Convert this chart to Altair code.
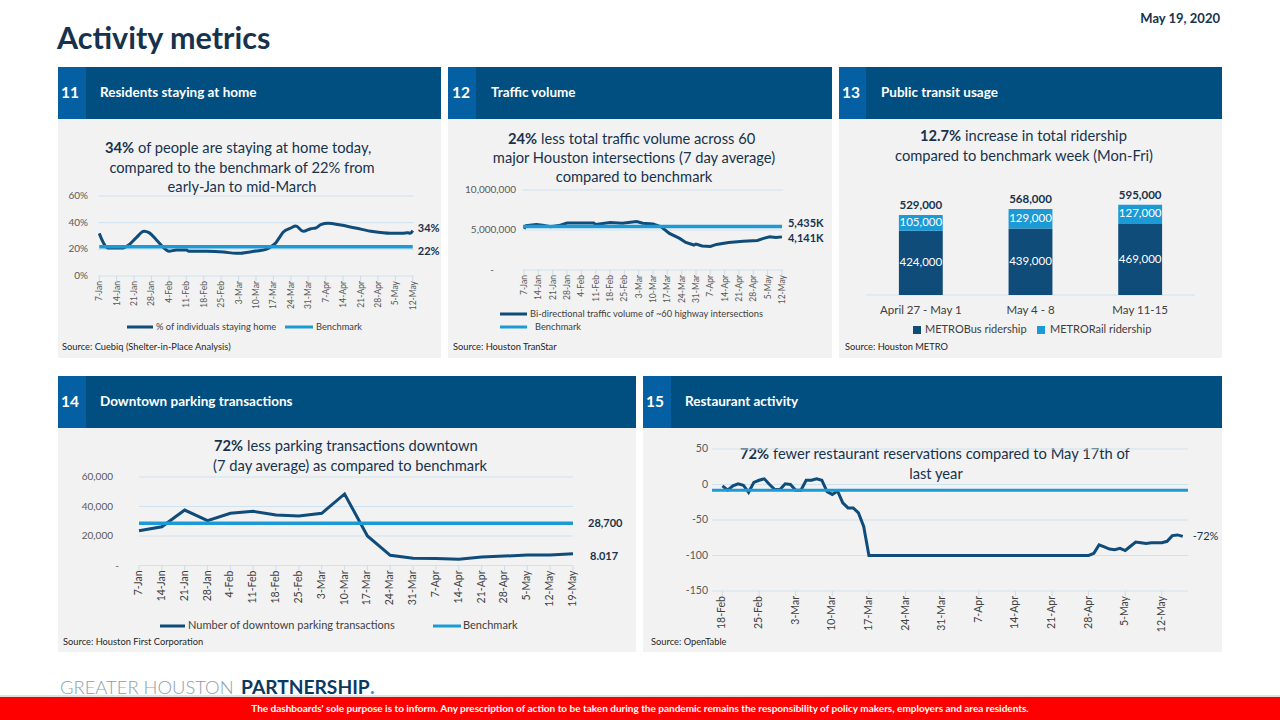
import altair as alt
import pandas as pd

W, H = 1280, 720
FONT = "Lato"
NAVY = "#004f80"
ACCENT = "#0560a3"
PANEL = "#f2f2f2"
DARK = "#0f4c7a"
LIGHT = "#1c9ad6"
GRID = "#cfe2f0"
INK = "#17324d"
AXT = "#595959"
LEG = "#404040"
SRC = "#262626"

# ---------------- data ----------------
# 11 Residents staying at home (% of individuals)
home_dates = ["2020-01-07", "2020-01-10", "2020-01-11", "2020-01-16", "2020-01-19", "2020-01-22",
              "2020-01-25", "2020-01-27", "2020-01-30", "2020-02-03", "2020-02-04", "2020-02-07",
              "2020-02-11", "2020-02-12", "2020-02-19", "2020-02-26", "2020-03-02", "2020-03-04",
              "2020-03-06", "2020-03-10", "2020-03-14", "2020-03-16", "2020-03-18", "2020-03-20",
              "2020-03-21", "2020-03-24", "2020-03-26", "2020-03-29", "2020-04-01", "2020-04-03",
              "2020-04-05", "2020-04-08", "2020-04-13", "2020-04-19", "2020-04-26", "2020-05-03",
              "2020-05-08", "2020-05-10", "2020-05-11", "2020-05-12"]
home_pct = [32, 21.5, 21, 21, 23.5, 29, 33.5, 32.5, 27, 19.5, 18.5, 19.5,
            19.5, 18.5, 18.5, 18, 17, 17, 17.7, 18.7, 20, 22, 25, 30.5,
            33, 36, 37.5, 33.5, 35.5, 36, 38.5, 39.5, 38.2, 36, 33.3, 32,
            32, 32.5, 32, 34]
home_bench = 22
home_ticks = ["7-Jan", "14-Jan", "21-Jan", "28-Jan", "4-Feb", "11-Feb", "18-Feb", "25-Feb", "3-Mar",
              "10-Mar", "17-Mar", "24-Mar", "31-Mar", "7-Apr", "14-Apr", "21-Apr", "28-Apr", "5-May", "12-May"]
home_yv = [0, 20, 40, 60]
home_yl = ["0%", "20%", "40%", "60%"]

# 12 Traffic volume
traffic_dates = ["2020-01-07", "2020-01-08", "2020-01-13", "2020-01-16", "2020-01-20", "2020-01-24",
                 "2020-01-28", "2020-02-10", "2020-02-11", "2020-02-18", "2020-02-24", "2020-03-02",
                 "2020-03-05", "2020-03-10", "2020-03-14", "2020-03-18", "2020-03-23", "2020-03-26",
                 "2020-03-30", "2020-03-31", "2020-04-03", "2020-04-07", "2020-04-10", "2020-04-16",
                 "2020-04-23", "2020-04-30", "2020-05-03", "2020-05-06", "2020-05-09", "2020-05-12"]
traffic_volume = [5150000, 5550000, 5700000, 5600000, 5400000, 5550000,
                  5870000, 5870000, 5700000, 5950000, 5850000, 6050000,
                  5850000, 5750000, 5400000, 4580000, 3950000, 3450000,
                  3120000, 3250000, 3000000, 2950000, 3200000, 3450000,
                  3600000, 3700000, 3950000, 4150000, 4050000, 4141000]
traffic_bench = 5435000
traffic_yv = [0, 5000000, 10000000]
traffic_yl = ["-", "5,000,000", "10,000,000"]

# 13 Public transit usage
transit_weeks = ["April 27 - May 1", "May 4 - 8", "May 11-15"]
bus_riders = [424000, 439000, 469000]
rail_riders = [105000, 129000, 127000]
transit_totals = ["529,000", "568,000", "595,000"]

# 14 Downtown parking transactions (7 day average)
parking_dates = ["2020-01-07", "2020-01-14", "2020-01-21", "2020-01-28", "2020-02-04", "2020-02-11",
                 "2020-02-18", "2020-02-25", "2020-03-03", "2020-03-10", "2020-03-17", "2020-03-24",
                 "2020-03-31", "2020-04-07", "2020-04-14", "2020-04-21", "2020-04-28", "2020-05-05",
                 "2020-05-12", "2020-05-19"]
parking_tx = [23600, 26300, 37600, 30400, 35400, 36700, 34200, 33600, 35400, 48500,
              20000, 6900, 4900, 4700, 4200, 5800, 6400, 7100, 7100, 8017]
parking_bench = 28700
parking_ticks = home_ticks + ["19-May"]
parking_yv = [0, 20000, 40000, 60000]
parking_yl = ["-", "20,000", "40,000", "60,000"]

# 15 Restaurant activity (% change in reservations vs last year)
rest_dates = ["2020-02-18", "2020-02-19", "2020-02-20", "2020-02-21", "2020-02-22", "2020-02-23",
              "2020-02-24", "2020-02-25", "2020-02-26", "2020-02-27", "2020-02-28", "2020-02-29",
              "2020-03-01", "2020-03-02", "2020-03-03", "2020-03-04", "2020-03-05", "2020-03-06",
              "2020-03-07", "2020-03-08", "2020-03-09", "2020-03-10", "2020-03-11", "2020-03-12",
              "2020-03-13", "2020-03-14", "2020-03-15", "2020-03-16", "2020-03-17", "2020-04-28",
              "2020-04-29", "2020-04-30", "2020-05-01", "2020-05-02", "2020-05-03", "2020-05-04",
              "2020-05-05", "2020-05-06", "2020-05-07", "2020-05-08", "2020-05-09", "2020-05-10",
              "2020-05-11", "2020-05-12", "2020-05-13", "2020-05-14", "2020-05-15", "2020-05-16"]
rest_pct = [-2, -8, -2, 1, -1, -11, 3, 6, 8, 0, -7, -7,
            1, 0, -8, -8, 6, 6, 8, 6, -10, -14, -9, -26,
            -33, -33, -40, -59, -100, -100, -97, -85, -88, -91, -92, -90,
            -93, -87, -81, -82, -83, -82, -82, -82, -80, -72, -71, -73]
rest_bench = -8
rest_ticks = ["18-Feb", "25-Feb", "3-Mar", "10-Mar", "17-Mar", "24-Mar", "31-Mar", "7-Apr",
              "14-Apr", "21-Apr", "28-Apr", "5-May", "12-May"]
rest_yv = [-150, -100, -50, 0, 50]
rest_yl = ["-150", "-100", "-50", "0", "50"]


# ---------------- helpers ----------------
def lin(dom, rng):
    return alt.Scale(domain=dom, range=rng, nice=False, zero=False)


XL = lin([0, W], [0, W])
YL = lin([0, H], [0, H])
layers = []


def day_offsets(dates, start):
    s = pd.Timestamp(start)
    return [(pd.Timestamp(d) - s).days for d in dates]


def lay_text(rows, **kw):
    df = pd.DataFrame(rows, columns=["t", "x", "y"])
    base = dict(font=FONT, baseline="middle", align="left")
    base.update(kw)
    return alt.Chart(df).mark_text(**base).encode(
        x=alt.X("x:Q", scale=XL, axis=None), y=alt.Y("y:Q", scale=YL, axis=None), text="t:N")


def lay_rects(rows):
    df = pd.DataFrame(rows, columns=["x", "x2", "y", "y2", "fill"])
    return alt.Chart(df).mark_rect().encode(
        x=alt.X("x:Q", scale=XL, axis=None), x2="x2", y=alt.Y("y:Q", scale=YL, axis=None), y2="y2",
        color=alt.Color("fill:N", scale=None))


def lay_rules(rows, width):
    df = pd.DataFrame(rows, columns=["x", "x2", "y", "stroke"])
    return alt.Chart(df).mark_rule(strokeWidth=width).encode(
        x=alt.X("x:Q", scale=XL, axis=None), x2="x2", y=alt.Y("y:Q", scale=YL, axis=None),
        color=alt.Color("stroke:N", scale=None))


def line_panel(P, d, v, bench, bench_span, ticks, yv, yl, xlab_size, ylab_dx, dash_dx,
               interp, axis_v, ylab_size=10, xlab_color=AXT, bench_w=3.5):
    xs = lin(P["xdom"], P["xr"])
    ys = lin(P["ydom"], P["yr"])

    def X(f):
        return alt.X(f + ":Q", scale=xs, axis=None)

    def Y(f):
        return alt.Y(f + ":Q", scale=ys, axis=None)

    out = []
    g = pd.DataFrame({"v": yv, "a": P["xdom"][0], "b": P["xdom"][1]})
    out.append(alt.Chart(g).mark_rule(color=GRID, strokeWidth=1).encode(x=X("a"), x2="b", y=Y("v")))
    tk = pd.DataFrame({"d": [7 * i for i in range(len(ticks))], "t": ticks, "y": axis_v})
    out.append(alt.Chart(tk).mark_tick(orient="vertical", size=5, thickness=1, color="#bcd3e4",
                                       yOffset=2.5).encode(x=X("d"), y=Y("y")))
    out.append(alt.Chart(tk).mark_text(angle=270, align="right", baseline="middle", dx=-5,
                                       fontSize=xlab_size, color=xlab_color, font=FONT).encode(
        x=X("d"), y=Y("y"), text="t:N"))
    ylab = pd.DataFrame({"v": yv, "t": yl, "a": P["xdom"][0]})
    main = ylab[ylab["t"] != "-"]
    dash = ylab[ylab["t"] == "-"]
    out.append(alt.Chart(main).mark_text(align="right", baseline="middle", dx=ylab_dx, fontSize=ylab_size,
                                         color=AXT, font=FONT).encode(x=X("a"), y=Y("v"), text="t:N"))
    if len(dash):
        out.append(alt.Chart(dash).mark_text(align="center", baseline="middle", dx=dash_dx, fontSize=ylab_size,
                                             color=AXT, font=FONT).encode(x=X("a"), y=Y("v"), text="t:N"))
    ln = pd.DataFrame({"d": d, "v": v})
    out.append(alt.Chart(ln).mark_line(color=DARK, strokeWidth=3, interpolate=interp).encode(
        x=X("d"), y=Y("v")))
    bm = pd.DataFrame({"a": [bench_span[0]], "b": [bench_span[1]], "v": [bench]})
    out.append(alt.Chart(bm).mark_rule(color=LIGHT, strokeWidth=bench_w).encode(x=X("a"), x2="b", y=Y("v")))
    return out, X, Y


def value_label(X, Y, d, v, text, dx, dy, size=11, weight="bold"):
    df = pd.DataFrame({"d": [d], "v": [v], "t": [text]})
    return alt.Chart(df).mark_text(align="left", baseline="middle", dx=dx, dy=dy, fontSize=size,
                                   fontWeight=weight, color=INK, font=FONT).encode(
        x=X("d"), y=Y("v"), text="t:N")


# ---------------- page furniture ----------------
layers.append(lay_rects([
    (58, 441, 119, 358, PANEL), (448, 832, 119, 358, PANEL), (839, 1222, 119, 358, PANEL),
    (58, 636, 428, 652, PANEL), (643, 1222, 428, 652, PANEL),
    (58, 441, 67, 119, NAVY), (448, 832, 67, 119, NAVY), (839, 1222, 67, 119, NAVY),
    (58, 636, 376, 428, NAVY), (643, 1222, 376, 428, NAVY),
    (58, 86, 67, 119, ACCENT), (448, 476, 67, 119, ACCENT), (839, 866, 67, 119, ACCENT),
    (58, 86, 376, 428, ACCENT), (643, 671, 376, 428, ACCENT),
    (0, 1280, 695, 697, "#e0e0e0"), (0, 1280, 697, 720, "#ff0000"),
]))

layers.append(lay_text([("Activity metrics", 57, 49)], fontSize=30.5, fontWeight="bold", color=INK,
                       baseline="alphabetic"))
layers.append(lay_text([("May 19, 2020", 1220, 23)], fontSize=13, fontWeight="bold", color=INK,
                       align="right", baseline="alphabetic"))
layers.append(lay_text([("11", 61, 93), ("12", 452, 93), ("13", 842, 93), ("14", 61, 402), ("15", 646, 402)],
                       fontSize=15.5, fontWeight="bold", color="white"))
layers.append(lay_text([("Residents staying at home", 100, 93), ("Traffic volume", 491, 93),
                        ("Public transit usage", 881, 93), ("Downtown parking transactions", 100, 402),
                        ("Restaurant activity", 685, 402)], fontSize=13.5, fontWeight="bold", color="white"))
# subtitles
SUB = 14.7
layers.append(lay_text([("34%", 134, 149), ("24%", 537, 140), ("12.7%", 961, 137), ("72%", 243, 447),
                        ("72%", 769, 455)], fontSize=SUB, fontWeight="bold", color=INK, align="right"))
layers.append(lay_text([("of people are staying at home today,", 138, 149),
                        ("less total traffic volume across 60", 541, 140),
                        ("increase in total ridership", 965, 137),
                        ("less parking transactions downtown", 247, 447),
                        ("fewer restaurant reservations compared to May 17th of", 773, 455)],
                       fontSize=SUB, color=INK))
layers.append(lay_text([("compared to the benchmark of 22% from", 242, 169), ("early-Jan to mid-March", 242, 188),
                        ("major Houston intersections (7 day average)", 634, 159),
                        ("compared to benchmark", 634, 178),
                        ("compared to benchmark week (Mon-Fri)", 1024, 157),
                        ("(7 day average) as compared to benchmark", 350, 467),
                        ("last year", 936, 475)], fontSize=SUB, color=INK, align="center"))
# sources
layers.append(lay_text([("Source: Cuebiq (Shelter-in-Place Analysis)", 62, 347), ("Source: Houston TranStar", 453, 347),
                        ("Source: Houston METRO", 845, 347), ("Source: Houston First Corporation", 63, 642),
                        ("Source: OpenTable", 651, 642)], fontSize=9.3, color=SRC))
# legends
layers.append(lay_rules([(127, 153, 327, DARK), (285, 313, 327, LIGHT), (500, 527, 314, DARK),
                         (500, 527, 327, LIGHT), (160, 185, 626, DARK), (433, 461, 626, LIGHT)], 3))
layers.append(lay_rects([(913, 921, 326, 334, DARK), (1037, 1045, 326, 334, LIGHT)]))
layers.append(lay_text([("% of individuals staying home", 156, 327), ("Benchmark", 316, 327),
                        ("Bi-directional traffic volume of ~60 highway intersections", 530, 314),
                        ("Benchmark", 535, 327)], fontSize=9.3, color=LEG))
layers.append(lay_text([("METROBus ridership", 925, 330), ("METRORail ridership", 1050, 330),
                        ("Number of downtown parking transactions", 188, 626), ("Benchmark", 463, 626)],
                       fontSize=11, color=LEG))
# footer
layers.append(lay_text([("GREATER HOUSTON", 60, 688)], fontSize=18.4, fontWeight=300, color="#8e9ea9"))
layers.append(lay_text([("PARTNERSHIP", 241, 688)], fontSize=19.2, fontWeight="bold", color="#0b3a60"))
layers.append(lay_text([(".", 370, 688)], fontSize=19.2, fontWeight="bold", color=LIGHT))
layers.append(lay_text([("The dashboards' sole purpose is to inform. Any prescription of action to be taken during the "
                         "pandemic remains the responsibility of policy makers, employers and area residents.", 640, 709)],
                       fontSize=10, fontWeight="bold", color="white", align="center"))

# ---------------- panel 11 ----------------
P11 = dict(xdom=[-0.5, 126.5], xr=[98, 414], ydom=[0, 60], yr=[276, 196])
hd = day_offsets(home_dates, "2020-01-07")
out, X, Y = line_panel(P11, hd, home_pct, home_bench, [0, 126], home_ticks, home_yv, home_yl,
                       8.5, -10, -14, "monotone", 0)
layers += out
layers.append(value_label(X, Y, hd[-1], home_pct[-1], "34%", 5, -2))
layers.append(value_label(X, Y, hd[-1], home_bench, "22%", 5, 5))

# ---------------- panel 12 ----------------
P12 = dict(xdom=[-1, 126.5], xr=[522, 783], ydom=[0, 10000000], yr=[270, 190])
td = day_offsets(traffic_dates, "2020-01-07")
out, X, Y = line_panel(P12, td, traffic_volume, traffic_bench, [-0.5, 126], home_ticks, traffic_yv, traffic_yl,
                       8.5, -6, -30, "linear", 0)
layers += out
layers.append(value_label(X, Y, td[-1], traffic_bench, "5,435K", 6, -3))
layers.append(value_label(X, Y, td[-1], traffic_volume[-1], "4,141K", 6, 2))

# ---------------- panel 14 ----------------
P14 = dict(xdom=[0, 133], xr=[139, 573], ydom=[0, 60000], yr=[565.5, 477])
pd_ = day_offsets(parking_dates, "2020-01-07")
out, X, Y = line_panel(P14, pd_, parking_tx, parking_bench, [0, 133], parking_ticks, parking_yv, parking_yl,
                       10.5, -26, -22, "linear", 0, xlab_color=LEG)
layers += out
layers.append(value_label(X, Y, pd_[-1], parking_bench, "28,700", 15, 1))
layers.append(value_label(X, Y, pd_[-1], parking_tx[-1], "8.017", 17, 3))

# ---------------- panel 15 ----------------
P15 = dict(xdom=[-2, 89], xr=[712, 1188], ydom=[-150, 50], yr=[591, 449])
rd = day_offsets(rest_dates, "2020-02-18")
out, X, Y = line_panel(P15, rd, rest_pct, rest_bench, [-2, 89], rest_ticks, rest_yv, rest_yl,
                       10.5, -4, 0, "linear", -150, ylab_size=10.5, xlab_color=LEG, bench_w=3)
layers += out
layers.append(value_label(X, Y, rd[-1], -72, "-72%", 10, 1, weight="normal"))

# ---------------- panel 13 (stacked bars) ----------------
XB = alt.Scale(domain=transit_weeks, range=[866, 1195], paddingInner=0.6, paddingOuter=0.3)
YB = lin([0, 595000], [295, 205])
bars = pd.DataFrame({
    "week": transit_weeks * 2,
    "series": ["METROBus ridership"] * 3 + ["METRORail ridership"] * 3,
    "value": bus_riders + rail_riders,
    "order": [0] * 3 + [1] * 3,
})
layers.append(lay_rules([(866, 1195, 295, GRID)], 1))
layers.append(alt.Chart(bars).mark_bar().encode(
    x=alt.X("week:N", scale=XB, axis=None, sort=transit_weeks),
    y=alt.Y("value:Q", stack="zero", scale=YB, axis=None),
    color=alt.Color("series:N", scale=alt.Scale(domain=["METROBus ridership", "METRORail ridership"],
                                                range=[DARK, LIGHT]), legend=None),
    order=alt.Order("order:Q")))
inner = pd.DataFrame({
    "week": transit_weeks * 2,
    "mid": [b / 2 for b in bus_riders] + [b + r / 2 for b, r in zip(bus_riders, rail_riders)],
    "t": [f"{b:,}" for b in bus_riders] + [f"{r:,}" for r in rail_riders],
})
layers.append(alt.Chart(inner).mark_text(fontSize=11.5, color="white", font=FONT, baseline="middle").encode(
    x=alt.X("week:N", scale=XB, axis=None, sort=transit_weeks),
    y=alt.Y("mid:Q", scale=YB, axis=None, stack=None), text="t:N"))
tops = pd.DataFrame({"week": transit_weeks, "top": [b + r for b, r in zip(bus_riders, rail_riders)],
                     "t": transit_totals, "base": 0})
layers.append(alt.Chart(tops).mark_text(fontSize=11.5, fontWeight="bold", color=INK, font=FONT,
                                        baseline="middle", dy=-9).encode(
    x=alt.X("week:N", scale=XB, axis=None, sort=transit_weeks),
    y=alt.Y("top:Q", scale=YB, axis=None, stack=None), text="t:N"))
layers.append(alt.Chart(tops).mark_text(fontSize=11.5, color=LEG, font=FONT, baseline="middle", dy=16).encode(
    x=alt.X("week:N", scale=XB, axis=None, sort=transit_weeks),
    y=alt.Y("base:Q", scale=YB, axis=None, stack=None), text="week:N"))

chart = alt.layer(*layers).resolve_scale(x="independent", y="independent", color="independent").properties(
    width=W, height=H, autosize=alt.AutoSizeParams(type="none"), padding=0, background="white"
).configure_view(stroke=None).configure_text(font=FONT)

chart.save("out.html", embed_options={"renderer": "svg", "actions": False})
